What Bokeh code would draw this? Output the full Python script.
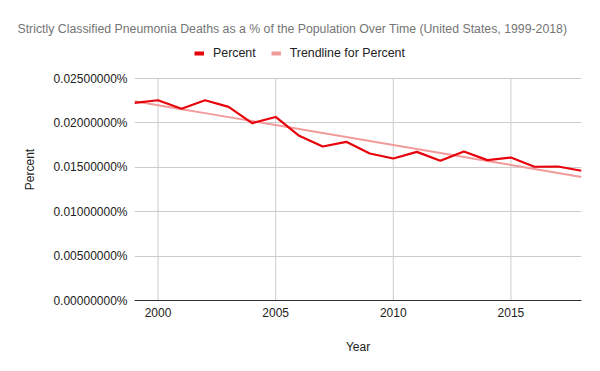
import numpy as np
from bokeh.plotting import figure
from bokeh.models import ColumnDataSource, Legend, LegendItem, Title, FixedTicker, PrintfTickFormatter, Range1d
from bokeh.embed import file_html
from bokeh.resources import INLINE

years = list(range(1999, 2019))
percent = [0.02225, 0.02255, 0.02160, 0.02255, 0.02180, 0.01997, 0.02067, 0.01854,
           0.01734, 0.01787, 0.01655, 0.01599, 0.01674, 0.01573, 0.01678, 0.01581,
           0.01610, 0.01506, 0.01509, 0.01461]
y_ticks = [0.0, 0.005, 0.010, 0.015, 0.020, 0.025]
x_ticks = [2000, 2005, 2010, 2015]

slope, intercept = np.polyfit(years, percent, 1)
trend = [slope * y + intercept for y in years]

RED = "#e8000b"
PINK = "#f29b9b"
FONT = "Liberation Sans"
Y_TOP = 0.025 * 262 / 222   # extra headroom inside the frame for the legend

p = figure(width=600, height=371, output_backend="svg", toolbar_location=None,
           x_range=Range1d(1999, 2018), y_range=Range1d(0, Y_TOP),
           min_border_left=134, min_border_right=19, min_border_top=38, min_border_bottom=71)
p.outline_line_color = None
p.background_fill_color = "white"
p.xgrid.grid_line_color = None
p.ygrid.grid_line_color = "#cccccc"

# vertical grid lines only up to the top tick
p.segment(x0=x_ticks, y0=[y_ticks[0]] * len(x_ticks), x1=x_ticks, y1=[y_ticks[-1]] * len(x_ticks),
          line_color="#cccccc", line_width=1)

src = ColumnDataSource(dict(x=years, y=percent, t=trend))
p.line("x", "t", source=src, line_color=PINK, line_width=2)
p.line("x", "y", source=src, line_color=RED, line_width=2.2)

d1 = p.line([1999, 1999], [float("nan"), float("nan")], line_color=RED, line_width=4)
d2 = p.line([1999, 1999], [float("nan"), float("nan")], line_color=PINK, line_width=4)
legend = Legend(items=[LegendItem(label="Percent", renderers=[d1]),
                       LegendItem(label="Trendline for Percent", renderers=[d2])],
                orientation="horizontal", location=(60, 240),
                label_text_font=FONT, label_text_font_size="12.4px", label_text_color="#222222",
                glyph_width=10, glyph_height=12, spacing=15, label_standoff=9, label_height=12,
                border_line_color=None, background_fill_alpha=0, padding=0, margin=0)
p.add_layout(legend, "center")

p.title = Title(text="Strictly Classified Pneumonia Deaths as a % of the Population Over Time (United States, 1999-2018)",
                text_font=FONT, text_font_size="12.3px", text_color="#757575", text_font_style="normal",
                align="left", offset=-117, standoff=6)

p.xaxis.ticker = FixedTicker(ticks=x_ticks)
p.yaxis.ticker = FixedTicker(ticks=y_ticks)
p.yaxis.formatter = PrintfTickFormatter(format="%.8f%%")
for ax in (p.xaxis, p.yaxis):
    ax.major_tick_line_color = None
    ax.minor_tick_line_color = None
    ax.major_tick_out = 0
    ax.major_tick_in = 0
    ax.minor_tick_out = 0
    ax.major_label_text_font = FONT
    ax.major_label_text_font_size = "12px"
    ax.major_label_text_color = "#222222"
    ax.axis_label_text_font = FONT
    ax.axis_label_text_font_size = "12px"
    ax.axis_label_text_color = "#222222"
    ax.axis_label_text_font_style = "normal"
p.yaxis.bounds = (y_ticks[0], y_ticks[-1])
p.yaxis.axis_line_color = None
p.xaxis.axis_line_color = "#333333"
p.xaxis.axis_label = "Year"
p.yaxis.axis_label = "Percent"
p.xaxis.axis_label_standoff = 20
p.yaxis.axis_label_standoff = 13
p.yaxis.major_label_standoff = 7
p.xaxis.major_label_standoff = 7

open("out.html", "w").write(file_html(p, INLINE))
